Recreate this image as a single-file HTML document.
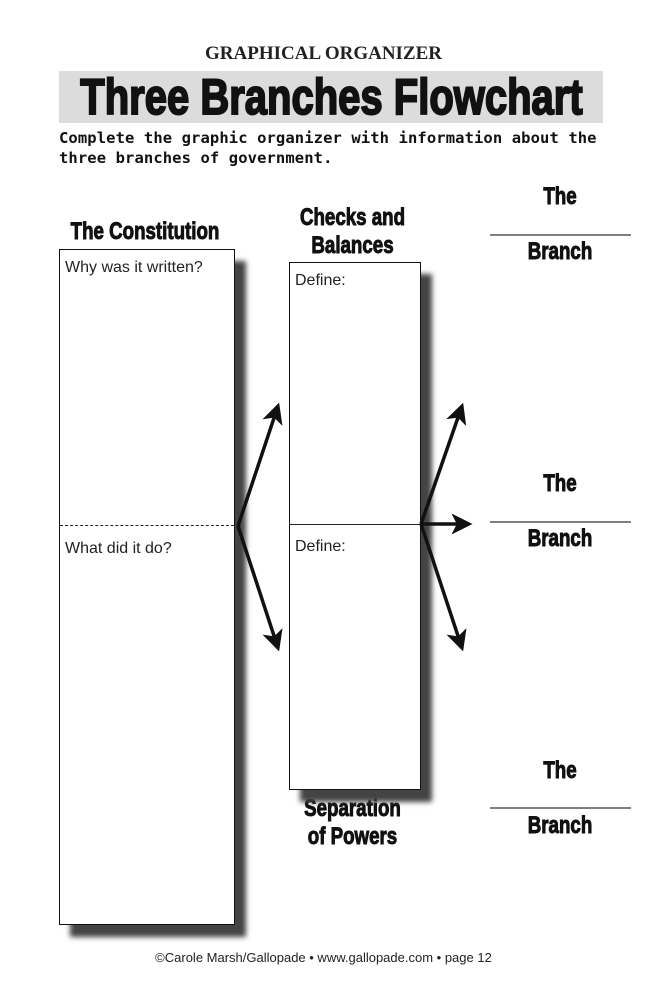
<!DOCTYPE html>
<html><head><meta charset="utf-8"><style>
body{margin:0;width:647px;height:1000px;background:#fff;position:relative;overflow:hidden;font-family:"Liberation Sans",sans-serif}
.a{position:absolute}
.h{font-weight:bold;color:#111;transform:scaleX(0.78);transform-origin:center;text-align:center;white-space:nowrap;-webkit-text-stroke:1px #111}
.box{position:absolute;border:1.5px solid #111;background:#fff;box-shadow:11px 12px 5px #444;box-sizing:border-box}
.lab{position:absolute;font-size:16px;color:#222}
</style></head><body>
<div class="a" style="left:0;width:647px;top:43px;text-align:center;font-family:'Liberation Serif',serif;font-weight:bold;font-size:19px;color:#222">GRAPHICAL ORGANIZER</div>
<div class="a" style="left:59px;top:71px;width:544px;height:52px;background:#dcdcdc"></div>
<div class="a h" style="left:0;width:663px;top:70px;font-size:50px;line-height:54px;transform:scaleX(0.8);-webkit-text-stroke:2px #111">Three Branches Flowchart</div>
<div class="a" style="left:59px;top:128px;font-family:'DejaVu Sans Mono',monospace;font-size:15.5px;line-height:20px;color:#111;font-weight:bold;letter-spacing:0.1px">Complete the graphic organizer with information about the<br>three branches of government.</div>

<div class="a h" style="left:40px;width:210px;top:218px;font-size:24px">The Constitution</div>
<div class="a h" style="left:270px;width:165px;top:204px;font-size:24px;line-height:28px">Checks and<br>Balances</div>
<div class="a h" style="left:270px;width:165px;top:795px;font-size:24px;line-height:28px">Separation<br>of Powers</div>

<div class="box" style="left:59px;top:249px;width:176px;height:676px"></div>
<div class="a" style="left:60px;top:525px;width:174px;border-top:1.5px dashed #222"></div>
<div class="lab" style="left:65px;top:259px">Why was it written?</div>
<div class="lab" style="left:65px;top:540px">What did it do?</div>

<div class="box" style="left:289px;top:262px;width:132px;height:528px"></div>
<div class="a" style="left:289px;top:524px;width:132px;border-top:1.5px solid #222"></div>
<div class="lab" style="left:295px;top:272px">Define:</div>
<div class="lab" style="left:295px;top:538px">Define:</div>

<svg class="a" style="left:0;top:0" width="647" height="1000">
<defs><marker id="m" markerWidth="6" markerHeight="6" refX="5" refY="3" orient="auto" markerUnits="strokeWidth"><path d="M0,0 L6,3 L0,6 L1.5,3 Z" fill="#111"/></marker></defs>
<g stroke="#111" stroke-width="3.5" fill="none" marker-end="url(#m)">
<line x1="238" y1="526" x2="278" y2="406"/>
<line x1="238" y1="526" x2="278" y2="648"/>
<line x1="421" y1="524" x2="462" y2="406"/>
<line x1="421" y1="524" x2="469" y2="524"/>
<line x1="421" y1="524" x2="462" y2="648"/>
</g>
<g stroke="#333" stroke-width="1.3">
<line x1="490" y1="235" x2="631" y2="235"/>
<line x1="490" y1="522" x2="631" y2="522"/>
<line x1="490" y1="808" x2="631" y2="808"/>
</g>
</svg>

<div class="a h" style="left:500px;width:120px;top:183px;font-size:24px">The</div>
<div class="a h" style="left:500px;width:120px;top:238px;font-size:24px">Branch</div>
<div class="a h" style="left:500px;width:120px;top:470px;font-size:24px">The</div>
<div class="a h" style="left:500px;width:120px;top:525px;font-size:24px">Branch</div>
<div class="a h" style="left:500px;width:120px;top:757px;font-size:24px">The</div>
<div class="a h" style="left:500px;width:120px;top:812px;font-size:24px">Branch</div>

<div class="a" style="left:0;width:647px;top:950px;text-align:center;font-size:13px;color:#222">©Carole Marsh/Gallopade • www.gallopade.com • page 12</div>
</body></html>
